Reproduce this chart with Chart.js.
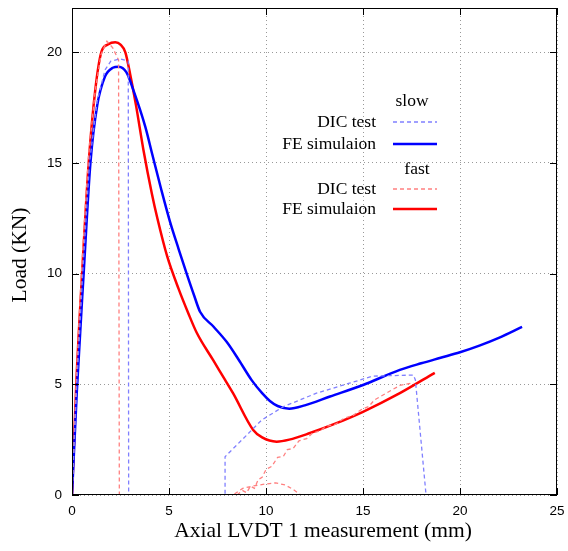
<!DOCTYPE html>
<html lang="en">
<head>
    <meta charset="UTF-8">
    <title>Load vs axial LVDT</title>
    <script src="https://cdn.jsdelivr.net/npm/chart.js"></script>
    <style>
        html, body { margin: 0; padding: 0; background: #fff; }
        #box { width: 568px; height: 551px; }
    </style>
</head>
<body>
    <div id="box">
        <canvas id="loadChart"></canvas>
    </div>

    <script>
        // tick values
        const xTicks = [0, 5, 10, 15, 20, 25];
        const yTicks = [0, 5, 10, 15, 20];

        // slow - DIC test (x mm, y KN)
        const slowDicX = [0, 0.25, 0.55, 0.9, 1.3, 1.7, 2.0, 2.5, 2.9, 2.92, 7.89, 7.89, 9.0, 9.78, 10.9, 12.6, 14.3, 15.5, 17.6, 17.7, 18.25];
        const slowDicY = [0, 5.0, 10.0, 15.0, 17.8, 19.2, 19.6, 19.7, 19.6, 0, 0, 1.73, 2.7, 3.39, 3.99, 4.6, 5.05, 5.37, 5.42, 5.2, 0];

        // slow - FE simulation
        const slowFeX = [0, 0.25, 0.6, 0.95, 1.3, 1.7, 2.1, 2.4, 2.8, 3.2, 3.78, 4.12, 4.6, 5.05, 5.5, 5.91, 6.3, 6.6, 7.3, 7.97, 8.6, 9.26, 9.8, 10.2, 10.6, 11.2, 12.0, 13.3, 15.0, 16.9, 18.0, 19.0, 20.0, 21.0, 22.0, 23.2];
        const slowFeY = [0, 4.7, 10.0, 15.0, 17.6, 18.9, 19.3, 19.35, 19.1, 18.2, 16.63, 15.45, 13.8, 12.35, 11.1, 10.0, 9.0, 8.28, 7.6, 6.92, 6.1, 5.19, 4.6, 4.25, 4.02, 3.9, 4.05, 4.45, 4.97, 5.65, 5.95, 6.2, 6.45, 6.75, 7.1, 7.6];

        // fast - DIC test (null = break)
        const fastDicX = [0, 0.22, 0.5, 0.85, 1.2, 1.5, 1.8, 2.1, 2.4, 2.44, 8.3, 8.8, 9.3, 10.0, 10.5, 11.0, 11.4, 11.8, null,
            8.5, 8.8, 9.0, 9.2, 9.4, 9.6, 9.8, 10.0, 10.3, 10.6, 10.9, 11.1, 11.4, 11.7, 12.1, 12.4, 12.8, 13.1, 13.6, 14.0, 14.5, 14.9, 15.3, 15.6, 16.2, 16.9, 17.6];
        const fastDicY = [0, 5.2, 10.3, 15.3, 18.3, 19.9, 20.5, 20.2, 19.65, 0, 0, 0.3, 0.4, 0.5, 0.55, 0.45, 0.25, 0, null,
            0, 0.2, 0.1, 0.4, 0.3, 0.7, 0.8, 1.15, 1.3, 1.7, 1.75, 2.05, 2.1, 2.45, 2.55, 2.8, 2.9, 3.1, 3.2, 3.45, 3.6, 3.85, 4.0, 4.3, 4.6, 4.95, 5.07];

        // fast - FE simulation
        const fastFeX = [0, 0.22, 0.52, 0.86, 1.2, 1.51, 1.85, 2.23, 2.5, 2.75, 3.0, 3.3, 3.68, 4.12, 4.4, 4.9, 5.5, 6.0, 6.43, 7.27, 7.89, 8.3, 9.34, 9.8, 10.55, 11.2, 12.27, 13.5, 15.0, 16.9, 18.7];
        const fastFeY = [0, 5.0, 10.0, 15.0, 18.3, 20.0, 20.35, 20.45, 20.35, 20.0, 19.0, 17.6, 15.6, 13.6, 12.5, 10.8, 9.3, 8.2, 7.33, 6.1, 5.2, 4.6, 2.94, 2.6, 2.41, 2.5, 2.8, 3.2, 3.76, 4.6, 5.52];

        function pontos(xs, ys) {
            return xs.map((x, i) => ({ x: x === null ? NaN : x, y: ys[i] }));
        }

        const plotBox = { left: 72, top: 8, right: 557, bottom: 495 };

        function semPadding(s) {
            s.paddingTop = 0;
            s.paddingBottom = 0;
            s.paddingLeft = 0;
            s.paddingRight = 0;
        }

        // box, inward ticks, axis titles, legend
        const molduraPlugin = {
            id: 'moldura',
            afterDraw(chart) {
                const ctx = chart.ctx;
                const a = chart.chartArea;
                const sx = chart.scales.x, sy = chart.scales.y;
                ctx.save();
                ctx.strokeStyle = '#000';
                ctx.lineWidth = 1;
                ctx.strokeRect(a.left + 0.5, a.top + 0.5, a.right - a.left - 1, a.bottom - a.top - 1);
                ctx.beginPath();
                xTicks.forEach(v => {
                    const px = Math.round(sx.getPixelForValue(v)) + 0.5;
                    ctx.moveTo(px, a.bottom); ctx.lineTo(px, a.bottom - 7);
                    ctx.moveTo(px, a.top); ctx.lineTo(px, a.top + 7);
                });
                yTicks.forEach(v => {
                    const py = Math.round(sy.getPixelForValue(v)) + 0.5;
                    ctx.moveTo(a.left, py); ctx.lineTo(a.left + 7, py);
                    ctx.moveTo(a.right, py); ctx.lineTo(a.right - 7, py);
                });
                ctx.stroke();

                // axis titles
                ctx.fillStyle = '#000';
                ctx.font = '21.5px "Liberation Serif", "DejaVu Serif", serif';
                ctx.textAlign = 'center';
                ctx.textBaseline = 'middle';
                ctx.fillText('Axial LVDT 1 measurement (mm)', 323, 531);
                ctx.save();
                ctx.translate(20, 255);
                ctx.rotate(-Math.PI / 2);
                ctx.fillText('Load (KN)', 0, 0);
                ctx.restore();

                // legend
                ctx.font = '17.5px "Liberation Serif", "DejaVu Serif", serif';
                ctx.textAlign = 'center';
                ctx.fillText('slow', 412, 101);
                ctx.fillText('fast', 417, 169);
                const entradas = [
                    { txt: 'DIC test', y: 122, cor: 'rgb(128,128,255)', w: 1.3, dash: [4, 3] },
                    { txt: 'FE simulaion', y: 144, cor: 'rgb(0,0,255)', w: 2.5, dash: [] },
                    { txt: 'DIC test', y: 189, cor: 'rgb(255,128,128)', w: 1.3, dash: [4, 3] },
                    { txt: 'FE simulaion', y: 209, cor: 'rgb(255,0,0)', w: 2.5, dash: [] }
                ];
                entradas.forEach(e => {
                    ctx.textAlign = 'right';
                    ctx.fillStyle = '#000';
                    ctx.fillText(e.txt, 376, e.y);
                    ctx.beginPath();
                    ctx.strokeStyle = e.cor;
                    ctx.lineWidth = e.w;
                    ctx.setLineDash(e.dash);
                    ctx.moveTo(393, e.y); ctx.lineTo(437, e.y);
                    ctx.stroke();
                });
                ctx.setLineDash([]);
                ctx.restore();
            }
        };

        const config = {
            type: 'line',
            data: {
                datasets: [
                    {
                        label: 'slow DIC test',
                        data: pontos(slowDicX, slowDicY),
                        borderColor: 'rgb(128,128,255)',
                        borderWidth: 1.3,
                        borderDash: [4, 3],
                        tension: 0,
                        pointRadius: 0,
                        spanGaps: false
                    },
                    {
                        label: 'fast DIC test',
                        data: pontos(fastDicX, fastDicY),
                        borderColor: 'rgb(255,128,128)',
                        borderWidth: 1.3,
                        borderDash: [4, 3],
                        tension: 0,
                        pointRadius: 0,
                        spanGaps: false
                    },
                    {
                        label: 'slow FE simulaion',
                        data: pontos(slowFeX, slowFeY),
                        borderColor: 'rgb(0,0,255)',
                        borderWidth: 2.5,
                        cubicInterpolationMode: 'monotone',
                        pointRadius: 0
                    },
                    {
                        label: 'fast FE simulaion',
                        data: pontos(fastFeX, fastFeY),
                        borderColor: 'rgb(255,0,0)',
                        borderWidth: 2.5,
                        cubicInterpolationMode: 'monotone',
                        pointRadius: 0
                    }
                ]
            },
            options: {
                responsive: true,
                maintainAspectRatio: false,
                animation: false,
                layout: { padding: { left: 0, top: plotBox.top, right: 568 - plotBox.right, bottom: 0 } },
                plugins: {
                    legend: { display: false },
                    tooltip: { enabled: false }
                },
                scales: {
                    x: {
                        type: 'linear',
                        min: 0,
                        max: 25,
                        afterFit: s => { s.height = 551 - plotBox.bottom; semPadding(s); },
                        afterBuildTicks: s => { s.ticks = xTicks.map(v => ({ value: v })); },
                        grid: { color: '#999', drawTicks: false, lineWidth: 1 },
                        border: { display: false, dash: [1, 3] },
                        ticks: {
                            padding: 8,
                            color: '#000',
                            maxRotation: 0,
                            font: { family: '"Liberation Sans", Arial, sans-serif', size: 13.5 }
                        }
                    },
                    y: {
                        min: 0,
                        max: 22,
                        afterFit: s => { s.width = plotBox.left; semPadding(s); },
                        afterBuildTicks: s => { s.ticks = yTicks.map(v => ({ value: v })); },
                        grid: { color: '#999', drawTicks: false, lineWidth: 1 },
                        border: { display: false, dash: [1, 3] },
                        ticks: {
                            padding: 10,
                            color: '#000',
                            font: { family: '"Liberation Sans", Arial, sans-serif', size: 13.5 }
                        }
                    }
                }
            },
            plugins: [molduraPlugin]
        };

        new Chart(document.getElementById('loadChart'), config);
    </script>
</body>
</html>
